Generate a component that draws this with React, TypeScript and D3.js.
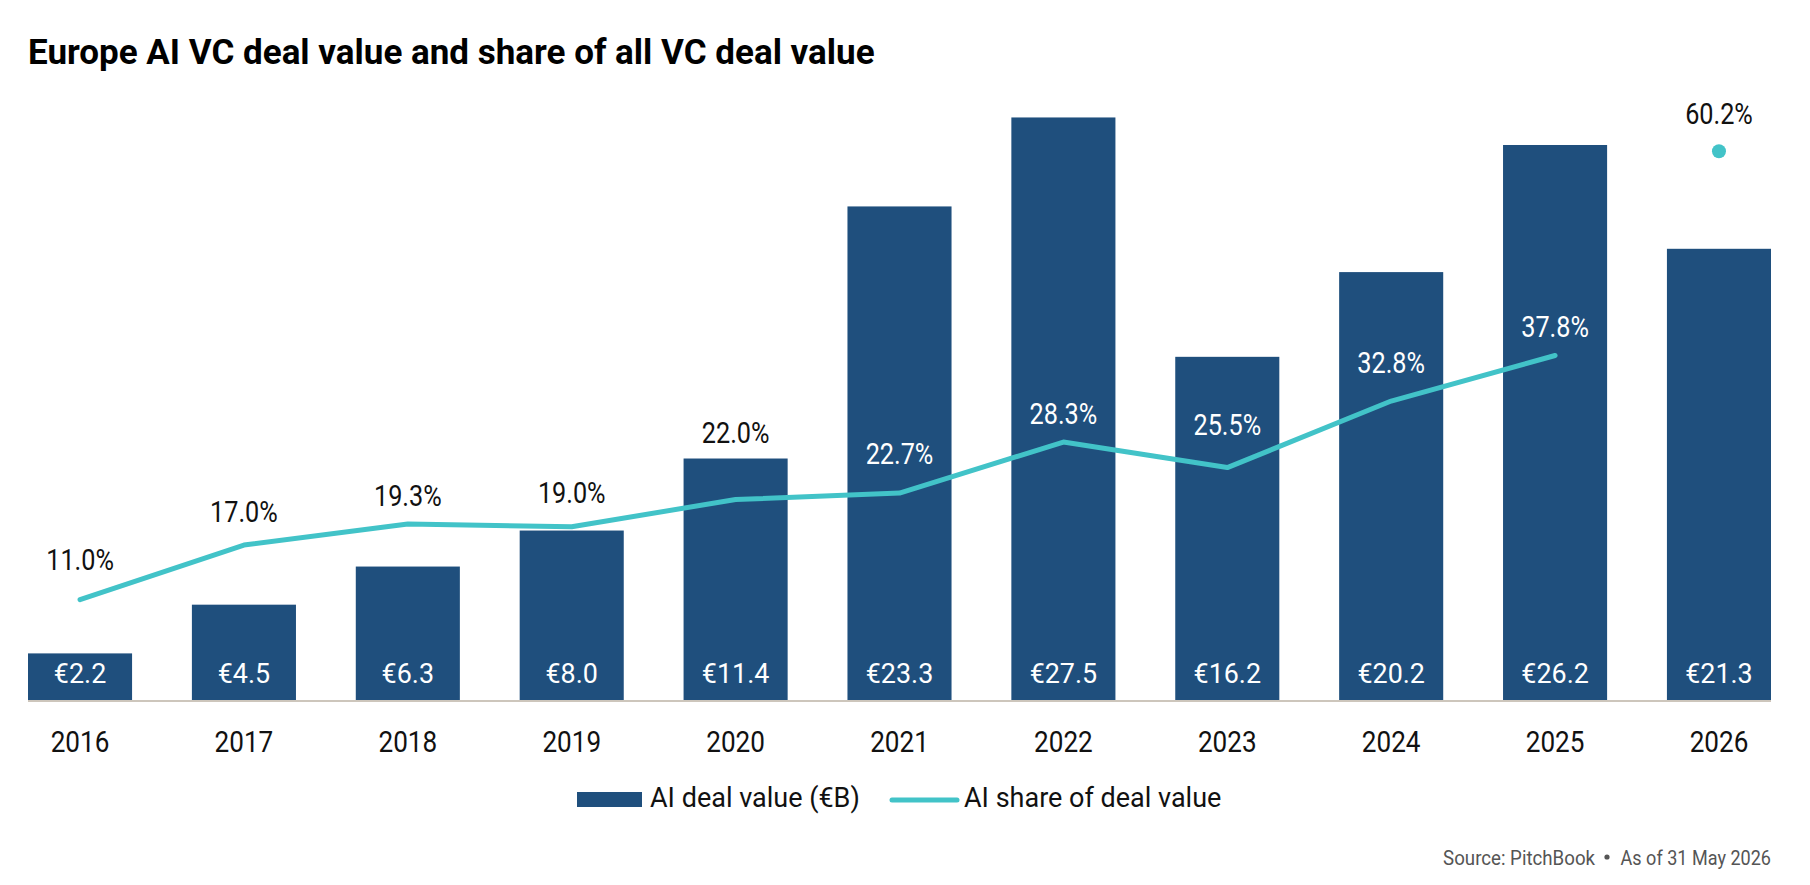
import * as d3 from 'd3';

const years = ['2016', '2017', '2018', '2019', '2020', '2021', '2022', '2023', '2024', '2025', '2026'];
const dealValue = [2.2, 4.5, 6.3, 8.0, 11.4, 23.3, 27.5, 16.2, 20.2, 26.2, 21.3];
const aiShare = [11.0, 17.0, 19.3, 19.0, 22.0, 22.7, 28.3, 25.5, 32.8, 37.8, 60.2];
const partialYear = '2026'; // shown as a lone point, not joined to the line

const width = 1810;
const height = 885;
const BAR = '#1f4f7d';
const TEAL = '#42c3c8';
const FONT = 'Roboto, "Liberation Sans", sans-serif';
const SQUEEZE = 0.87; // the source uses a condensed face

const CText = ({ x, y, size, fill = '#111', anchor = 'middle', weight = 400, sx = SQUEEZE, children }) => (
  <text
    transform={`translate(${x},${y}) scale(${sx},1)`}
    fontFamily={FONT}
    fontSize={size}
    fontWeight={weight}
    fill={fill}
    textAnchor={anchor}
  >
    {children}
  </text>
);

export default function App() {
  const x = d3.scaleBand().domain(years).range([28, 1771]).paddingInner(0.365).paddingOuter(0);
  const y = d3.scaleLinear().domain([0, 30]).range([700, 64.5]);
  const yShare = d3.scaleLinear().domain([0, 70]).range([700, 62]);
  const cx = (yr) => x(yr) + x.bandwidth() / 2;

  const linePts = years
    .map((yr, i) => ({ yr, v: aiShare[i] }))
    .filter((d) => d.yr !== partialYear)
    .map((d) => [cx(d.yr), yShare(d.v)]);

  const line = d3.line().curve(d3.curveLinear);

  const lineYAt = (px) => {
    for (let i = 0; i < linePts.length - 1; i++) {
      const [x0, y0] = linePts[i];
      const [x1, y1] = linePts[i + 1];
      if (px >= x0 && px <= x1) return y0 + ((px - x0) / (x1 - x0)) * (y1 - y0);
    }
    return null;
  };

  const dotR = 7;
  const labels = years.map((yr, i) => {
    const c = cx(yr);
    let top;
    if (yr === partialYear) {
      top = yShare(aiShare[i]) - dotR - 2;
    } else {
      const ys = d3.range(c - 36, c + 37, 2).map(lineYAt).filter((v) => v != null);
      top = d3.min(ys);
    }
    let base = top - 18;
    const barTop = y(dealValue[i]);
    const capTop = base - 21;
    if (base > barTop - 4 && capTop < barTop + 8) base = barTop - 16;
    const inside = base - 21 >= barTop;
    return { yr, c, base, inside, text: `${aiShare[i].toFixed(1)}%` };
  });

  const lastYr = partialYear;
  const lastIdx = years.indexOf(lastYr);

  return (
    <svg
      width={width}
      height={height}
      viewBox={`0 0 ${width} ${height}`}
      style={{ position: 'absolute', left: 0, top: 0, background: '#fff' }}
    >
      <text x={28} y={64} fontFamily={FONT} fontSize={35} fontWeight={700} fill="#000">
        Europe AI VC deal value and share of all VC deal value
      </text>

      {years.map((yr, i) => (
        <rect key={yr} x={x(yr)} y={y(dealValue[i])} width={x.bandwidth()} height={y(0) - y(dealValue[i])} fill={BAR} />
      ))}

      <line x1={28} x2={1771} y1={y(0) + 1} y2={y(0) + 1} stroke="#cdc6bc" strokeWidth={2} />

      {years.map((yr, i) => (
        <CText key={yr} x={cx(yr)} y={683} size={28} fill="#fff" sx={0.96}>
          €{dealValue[i].toFixed(1)}
        </CText>
      ))}

      {years.map((yr) => (
        <CText key={yr} x={cx(yr)} y={752} size={30} fill="#111">
          {yr}
        </CText>
      ))}

      <path d={line(linePts)} fill="none" stroke={TEAL} strokeWidth={5} strokeLinecap="round" strokeLinejoin="round" />
      <circle cx={cx(lastYr)} cy={yShare(aiShare[lastIdx])} r={dotR} fill={TEAL} />

      {labels.map((l) => (
        <CText key={l.yr} x={l.c} y={l.base} size={29} fill={l.inside ? '#fff' : '#111'}>
          {l.text}
        </CText>
      ))}

      <g>
        <rect x={577} y={792} width={65} height={15} fill={BAR} />
        <CText x={650} y={807} size={27} anchor="start" fill="#111" sx={1}>
          AI deal value (€B)
        </CText>
        <line x1={892} x2={957} y1={800} y2={800} stroke={TEAL} strokeWidth={5} strokeLinecap="round" />
        <CText x={964} y={807} size={27} anchor="start" fill="#111" sx={1}>
          AI share of deal value
        </CText>
      </g>

      <g>
        <CText x={1595} y={865} size={21} anchor="end" fill="#555" sx={0.89}>
          Source: PitchBook
        </CText>
        <circle cx={1607} cy={857} r={2.6} fill="#555" />
        <CText x={1771} y={865} size={21} anchor="end" fill="#555" sx={0.86}>
          As of 31 May 2026
        </CText>
      </g>
    </svg>
  );
}
